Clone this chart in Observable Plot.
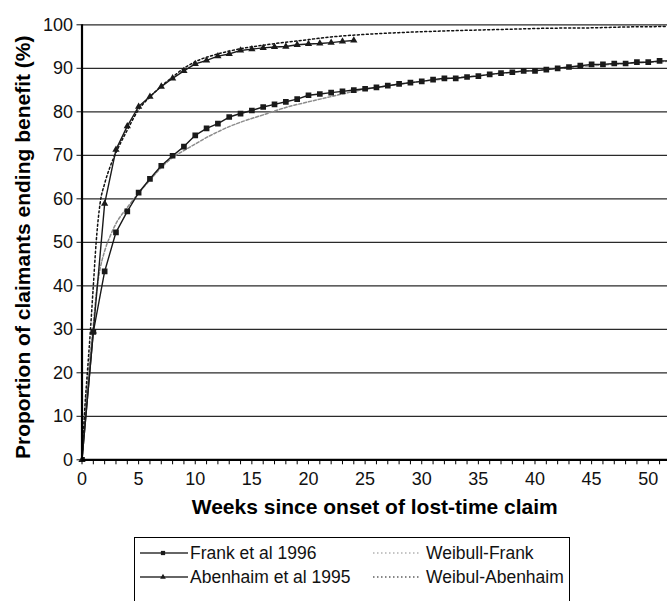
<!DOCTYPE html>
<html><head><meta charset="utf-8">
<script src="https://cdn.jsdelivr.net/npm/d3@7"></script>
<script src="https://cdn.jsdelivr.net/npm/@observablehq/plot@0.6"></script>
<style>
html,body{margin:0;padding:0;background:#fff;overflow:hidden;width:667px;height:601px;}
body{font-family:"Liberation Sans",Arial,sans-serif;position:relative;}
#chart{position:absolute;left:0;top:0;}
#legend{position:absolute;left:134px;top:537px;width:436px;height:100px;border:1px solid #000;box-sizing:border-box;background:#fff;}
.lt{position:absolute;font-size:17.5px;line-height:20px;color:#111;white-space:nowrap;}
.ls{position:absolute;}
</style></head><body><div id="chart"></div><div id="legend"></div>
<script>
// ---- data ----
const frankWeeks = [0,1,2,3,4,5,6,7,8,9,10,11,12,13,14,15,16,17,18,19,20,21,22,23,24,25,26,27,28,29,30,31,32,33,34,35,36,37,38,39,40,41,42,43,44,45,46,47,48,49,50,51,52];
const frankValues = [0,29.4,43.3,52.3,57.1,61.4,64.6,67.6,69.9,72.0,74.6,76.2,77.3,78.8,79.6,80.3,81.1,81.7,82.3,82.9,83.8,84.1,84.4,84.7,85.0,85.3,85.6,86.0,86.4,86.7,87.0,87.4,87.7,87.7,88.0,88.2,88.6,88.9,89.1,89.4,89.4,89.7,90.0,90.3,90.6,90.9,90.9,91.1,91.1,91.4,91.4,91.7,91.7];
const abenWeeks = [0,1,2,3,4,5,6,7,8,9,10,11,12,13,14,15,16,17,18,19,20,21,22,23,24];
const abenValues = [0,29.5,58.9,71.3,76.7,81.2,83.5,85.8,87.7,89.4,91.0,91.8,92.8,93.3,94.1,94.4,94.7,94.9,95.0,95.4,95.6,95.7,95.9,96.2,96.4];
const weibFrankWeeks = [0,0.25,0.5,0.75,1,1.25,1.5,2,2.5,3,4,5,6,7,8,9,10,11,12,13,14,16,18,20,22,24,26,28,30,33,36,40,44,48,51.7];
const weibFrankValues = [0,10,18,25,31,38,42.5,48,51.5,54.3,58,61.3,64.3,67.2,69.5,71.1,72.6,74.1,75.4,76.6,77.6,79.3,81,82.3,83.5,84.7,85.6,86.3,87.0,87.8,88.6,89.5,90.4,91.1,91.6];
const weibAbenWeeks = [0,0.25,0.5,0.75,1,1.25,1.6,2,2.5,3,4,5,6,7,8,9,10,12,14,16,18,20,22,25,28,31,35,38,41,45,48,51.7];
const weibAbenValues = [0,12,21,30,40,50,59,63.5,67.5,70.6,75.8,80.5,83.4,85.9,88,90,91.5,93.3,94.5,95.3,96,96.6,97.2,97.8,98.2,98.5,98.8,99,99.2,99.3,99.5,99.6];
const xMinorTicks = [0,1,2,3,4,5,6,7,8,9,10,11,12,13,14,15,16,17,18,19,20,21,22,23,24,25,26,27,28,29,30,31,32,33,34,35,36,37,38,39,40,41,42,43,44,45,46,47,48,49,50,51];
const xTickLabels = [0,5,10,15,20,25,30,35,40,45,50];
const yTickLabels = [0,10,20,30,40,50,60,70,80,90,100];
const xTitle = "Weeks since onset of lost-time claim";
const yTitle = "Proportion of claimants ending benefit (%)";
const seriesNames = ["Frank et al 1996","Abenhaim et al 1995","Weibull-Frank","Weibul-Abenhaim"];

const zip = (xs, ys) => xs.map((x, i) => ({x, y: ys[i]}));
const frank = zip(frankWeeks, frankValues);
const aben = zip(abenWeeks, abenValues);
const wFrank = zip(weibFrankWeeks, weibFrankValues);
const wAben = zip(weibAbenWeeks, weibAbenValues);

const font = "Liberation Sans, Arial, sans-serif";
const chart = Plot.plot({
  width: 667, height: 530,
  marginLeft: 81.5, marginRight: 0, marginTop: 24.3, marginBottom: 70.7,
  x: {domain: [0, 51.7]},
  y: {domain: [0, 100]},
  style: {fontFamily: font, color: "#111", background: "#fff", overflow: "visible"},
  marks: [
    Plot.gridY(yTickLabels.filter(d => d > 0), {stroke: "#2a2a2a", strokeOpacity: 1, strokeWidth: 1.2}),
    Plot.line(wFrank, {x: "x", y: "y", stroke: "#8c8c8c", strokeWidth: 1.5, strokeDasharray: "3,2", curve: "monotone-x", clip: true}),
    Plot.line(wAben, {x: "x", y: "y", stroke: "#111", strokeWidth: 1.5, strokeDasharray: "2,2.5", curve: "monotone-x", clip: true}),
    Plot.line(frank, {x: "x", y: "y", stroke: "#1a1a1a", strokeWidth: 1.4, clip: true}),
    Plot.dot(frank, {x: "x", y: "y", symbol: "square", r: 3.2, fill: "#1a1a1a", stroke: "none", clip: true}),
    Plot.line(aben, {x: "x", y: "y", stroke: "#1a1a1a", strokeWidth: 1.4}),
    Plot.dot(aben, {x: "x", y: "y", symbol: "triangle", r: 2.7, fill: "#1a1a1a", stroke: "none"}),
    Plot.ruleX([0], {stroke: "#000", strokeWidth: 2.2}),
    Plot.ruleY([0], {stroke: "#000", strokeWidth: 2.2}),
    Plot.axisX({ticks: xMinorTicks, tickSize: 5, tickFormat: () => "", label: null, stroke: "#000"}),
    Plot.axisX({ticks: xTickLabels, tickSize: 0, tickPadding: 12, fontSize: 18, label: null}),
    Plot.axisY({ticks: yTickLabels, tickSize: 5, tickPadding: 4, fontSize: 18, label: null}),
    Plot.text([xTitle], {text: d => d, frameAnchor: "bottom", dy: 54, fontSize: 21, fontWeight: "bold", fill: "#000"}),
    Plot.text([yTitle], {text: d => d, frameAnchor: "left", textAnchor: "middle", dx: -59, dy: 5, rotate: -90, fontSize: 21, fontWeight: "bold", fill: "#000"})
  ]
});
document.getElementById("chart").appendChild(chart);

// ---- legend ----
const legend = document.getElementById("legend");
const items = [
  {name: seriesNames[0], sx: 5, tx: 55, ry: 14.5, kind: "square"},
  {name: seriesNames[1], sx: 5, tx: 55, ry: 39, kind: "triangle"},
  {name: seriesNames[2], sx: 238, tx: 291, ry: 14.5, kind: "gray"},
  {name: seriesNames[3], sx: 238, tx: 291, ry: 39, kind: "black"}
];
const NS = "http://www.w3.org/2000/svg";
for (const it of items) {
  const svg = document.createElementNS(NS, "svg");
  svg.setAttribute("width", 50); svg.setAttribute("height", 12);
  svg.setAttribute("class", "ls");
  svg.style.left = it.sx + "px"; svg.style.top = (it.ry - 6) + "px";
  const ln = document.createElementNS(NS, "line");
  ln.setAttribute("x1", 0); ln.setAttribute("x2", 48); ln.setAttribute("y1", 6); ln.setAttribute("y2", 6);
  if (it.kind === "square" || it.kind === "triangle") {
    ln.setAttribute("stroke", "#333"); ln.setAttribute("stroke-width", 1.3);
    svg.appendChild(ln);
    const p = document.createElementNS(NS, "path");
    p.setAttribute("d", d3.symbol(it.kind === "square" ? d3.symbolSquare : d3.symbolTriangle, it.kind === "square" ? 18 : 14)());
    p.setAttribute("transform", "translate(23,6)");
    p.setAttribute("fill", "#1a1a1a");
    svg.appendChild(p);
  } else {
    ln.setAttribute("stroke", it.kind === "gray" ? "#8c8c8c" : "#111");
    ln.setAttribute("stroke-width", 1.1);
    ln.setAttribute("stroke-dasharray", "1.5,2.5");
    svg.appendChild(ln);
  }
  legend.appendChild(svg);
  const t = document.createElement("div");
  t.className = "lt"; t.textContent = it.name;
  t.style.left = it.tx + "px"; t.style.top = (it.ry - 10) + "px";
  legend.appendChild(t);
}
</script></body></html>
